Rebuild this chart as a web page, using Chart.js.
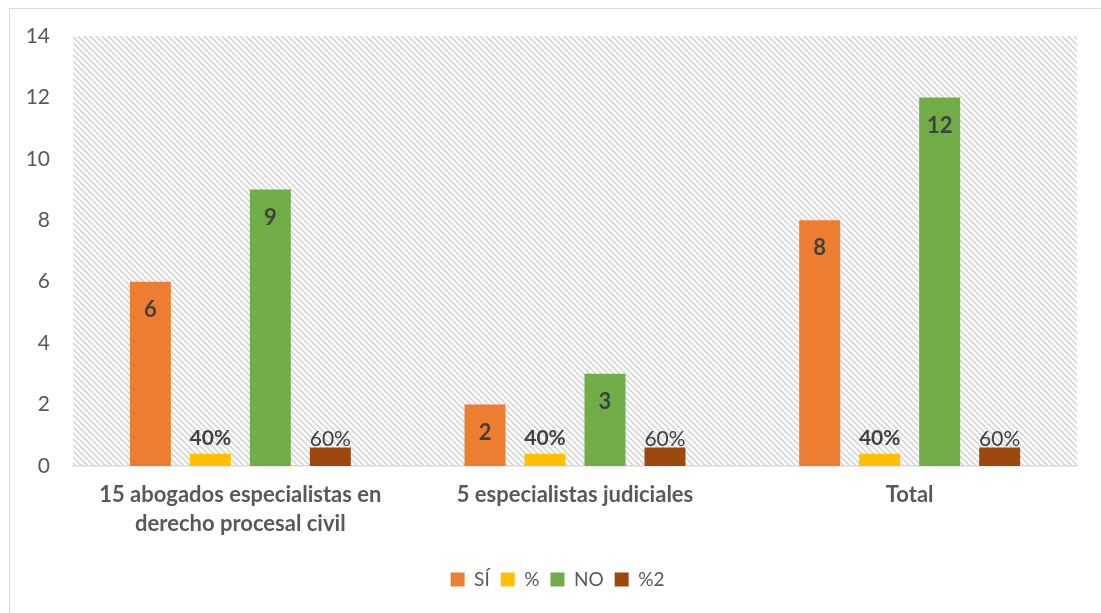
<!DOCTYPE html>
<html>
<head>
<meta charset="utf-8">
<script src="https://cdn.jsdelivr.net/npm/chart.js@4"></script>
<style>
  html, body { margin: 0; padding: 0; background: #fff; }
  #frame { position: absolute; left: 9px; top: 8px; width: 1200px; height: 700px; border: 1.5px solid #d9d9d9; }
  #wrap { position: absolute; left: 0; top: 0; width: 1101px; height: 613px; }
</style>
</head>
<body>
<div id="frame"></div>
<div id="wrap"><canvas id="chart"></canvas></div>
<script>
const categories = [['15 abogados especialistas en', 'derecho procesal civil'], '5 especialistas judiciales', 'Total'];
const siValues = [6, 2, 8];
const pctValues = [0.4, 0.4, 0.4];
const noValues = [9, 3, 12];
const pct2Values = [0.6, 0.6, 0.6];
const pctLabels = ['40%', '40%', '40%'];
const pct2Labels = ['60%', '60%', '60%'];
const yTicks = [0, 2, 4, 6, 8, 10, 12, 14];

const FONT = 'Lato, "Open Sans", sans-serif';

function makeHatch() {
  const c = document.createElement('canvas');
  c.width = 6; c.height = 6;
  const g = c.getContext('2d');
  g.strokeStyle = '#d6d6d6';
  g.lineWidth = 1.6;
  g.beginPath();
  g.moveTo(-1, -1); g.lineTo(7, 7);
  g.moveTo(-7, -1); g.lineTo(1, 7);
  g.moveTo(5, -1); g.lineTo(13, 7);
  g.stroke();
  return g.createPattern(c, 'repeat');
}

const hatchBackground = {
  id: 'hatchBackground',
  beforeDraw(chart) {
    const { ctx, chartArea: a } = chart;
    ctx.save();
    ctx.fillStyle = makeHatch();
    ctx.fillRect(a.left, a.top, a.right - a.left, a.bottom - a.top);
    ctx.restore();
  }
};

// legend sits a bit right of centre in the original
const legendShift = {
  id: 'legendShift',
  afterLayout(chart) {
    chart.legend.left += 19;
    chart.legend.right += 19;
  }
};

// value labels drawn on top of the bars
const barLabels = {
  id: 'barLabels',
  afterDatasetsDraw(chart) {
    const ctx = chart.ctx;
    ctx.save();
    ctx.fillStyle = '#404040';
    ctx.textAlign = 'center';
    chart.data.datasets.forEach((ds, i) => {
      const meta = chart.getDatasetMeta(i);
      meta.data.forEach((bar, j) => {
        if (ds.labelMode === 'inside') {
          ctx.font = 'bold 22px ' + FONT;
          ctx.textBaseline = 'middle';
          ctx.fillText(ds.data[j], bar.x, bar.y + 28);
        } else {
          ctx.font = (ds.labelBold ? 'bold ' : '') + '21px ' + FONT;
          ctx.textBaseline = 'alphabetic';
          ctx.fillText(ds.labelText[j], bar.x, bar.y + ds.labelOffset);
        }
      });
    });
    ctx.restore();
  }
};

new Chart(document.getElementById('chart').getContext('2d'), {
  type: 'bar',
  data: {
    labels: categories,
    datasets: [
      { label: 'SÍ', data: siValues, backgroundColor: '#ED7D31', labelMode: 'inside' },
      { label: '%', data: pctValues, backgroundColor: '#FFC000', labelText: pctLabels, labelBold: true, labelOffset: -9 },
      { label: 'NO', data: noValues, backgroundColor: '#70AD47', labelMode: 'inside' },
      { label: '%2', data: pct2Values, backgroundColor: '#9E480E', labelText: pct2Labels, labelBold: false, labelOffset: -2 }
    ]
  },
  options: {
    responsive: true,
    maintainAspectRatio: false,
    animation: false,
    categoryPercentage: 0.717,
    barPercentage: 0.683,
    layout: {
      padding: { left: 0, top: 36, right: 24, bottom: 14 }
    },
    scales: {
      x: {
        grid: { display: false, drawTicks: false },
        border: { color: '#d9d9d9', width: 1.5 },
        ticks: {
          color: '#595959',
          padding: 15,
          font: { family: FONT, size: 22, weight: 'bold', lineHeight: 1.3 },
          maxRotation: 0
        },
        afterFit(scale) { scale.height = 93; }
      },
      y: {
        min: 0,
        max: 14,
        afterBuildTicks(scale) { scale.ticks = yTicks.map(v => ({ value: v })); },
        grid: { display: false, drawTicks: false },
        border: { display: false },
        ticks: {
          color: '#595959',
          padding: 23,
          font: { family: FONT, size: 21 }
        },
        afterFit(scale) { scale.width = 73; }
      }
    },
    plugins: {
      legend: {
        position: 'bottom',
        labels: {
          color: '#595959',
          font: { family: FONT, size: 19 },
          boxWidth: 14,
          boxHeight: 14,
          padding: 11,
          useBorderRadius: false
        }
      },
      tooltip: { enabled: false }
    }
  },
  plugins: [hatchBackground, legendShift, barLabels]
});
</script>
</body>
</html>
